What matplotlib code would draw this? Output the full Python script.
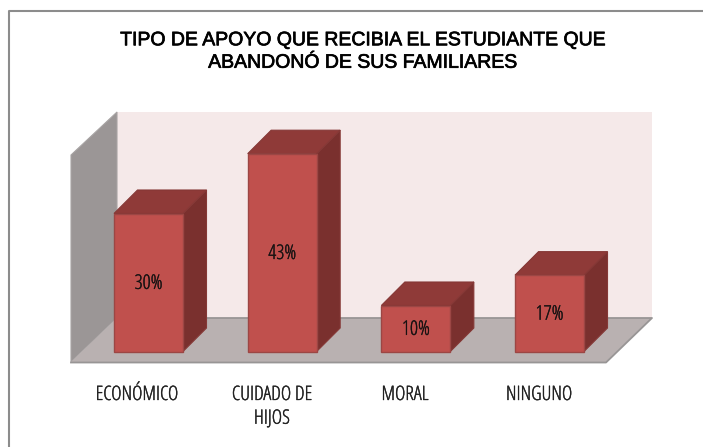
import matplotlib
matplotlib.use("Agg")
import matplotlib.pyplot as plt
import matplotlib.patheffects as pe
from matplotlib.patches import Polygon

categories = ["ECONÓMICO", "CUIDADO DE\nHIJOS", "MORAL", "NINGUNO"]
values = [30, 43, 10, 16.6]
labels = ["30%", "43%", "10%", "17%"]
title = "TIPO DE APOYO QUE RECIBIA EL ESTUDIANTE QUE\nABANDONÓ DE SUS FAMILIARES"

W, H = 703, 447
fig = plt.figure(figsize=(W / 100, H / 100), dpi=100, facecolor="white")

# Background axes in pixel units for the frame and the 3D box
bg = fig.add_axes([0, 0, 1, 1], zorder=0)
bg.set_xlim(0, W); bg.set_ylim(H, 0); bg.axis("off")
bg.plot([9, 9, W], [H, 10.5, 10.5], color="#8c8c8c", lw=1.5, solid_capstyle="butt")
bg.add_patch(Polygon([(117, 112), (652, 112), (652, 318), (117, 318)], fc="#f5e9e9", ec="none"))
bg.add_patch(Polygon([(71, 155), (117, 112), (117, 318), (71, 362)], fc="#9b9696", ec="#a8a4a4", lw=0.8))
bg.add_patch(Polygon([(71, 362), (117, 318), (652, 318), (606, 362)], fc="#b9b1b1", ec="none"))
bg.plot([117, 652, 606, 71], [318, 318, 362.5, 362.5], color="#989595", lw=1.3)

# Bars: category index on x, percentage on y
PXU = 133.67   # px per category
PXV = 4.6      # px per percentage point
x0, y0 = 148.5, 351.5
ax = fig.add_axes([0, 0, 1, 1], zorder=1)
ax.patch.set_alpha(0); ax.axis("off")
ax.set_xlim(-x0 / PXU, (W - x0) / PXU)
ax.set_ylim((y0 - H) / PXV, y0 / PXV)

thin = [pe.withStroke(linewidth=0.25, foreground="#222222")]
bw = 69 / PXU
dx, dy = 23.5 / PXU, 23.5 / PXV
for i, (v, lab) in enumerate(zip(values, labels)):
    l, r = i - bw / 2, i + bw / 2
    ax.add_patch(Polygon([(r, 0), (r + dx, dy), (r + dx, v + dy), (r, v)],
                         fc="#7a302e", ec="#853836", lw=0.8))
    ax.add_patch(Polygon([(l, v), (l + dx, v + dy), (r + dx, v + dy), (r, v)],
                         fc="#8f3a38", ec="#853836", lw=0.8))
    ax.bar(i, v, width=bw, color="#c0504d", edgecolor="#9c4644", linewidth=1.0)
    txt = ax.annotate(lab, (i, v / 2), xytext=(0, -1), textcoords="offset points",
                      ha="center", va="center", fontsize=14.5, family="Open Sans",
                      stretch="condensed", color="#1a1010")
    txt.set_path_effects(thin)

# Category labels sit on a shifted row
lab_x = [137, 272, 405, 539]
for cat, px in zip(categories, lab_x):
    txt = bg.text(px, 385, cat, ha="center", va="top", fontsize=14.3, family="Open Sans",
                  stretch="condensed", color="#222222", linespacing=1.25)
    txt.set_path_effects(thin)

t = bg.text(363, 52, title, ha="center", va="center", fontsize=14, family="Liberation Sans",
            color="black", linespacing=1.42)
t.set_path_effects([pe.withStroke(linewidth=0.5, foreground="black")])

fig.savefig("out.png", dpi=100)
